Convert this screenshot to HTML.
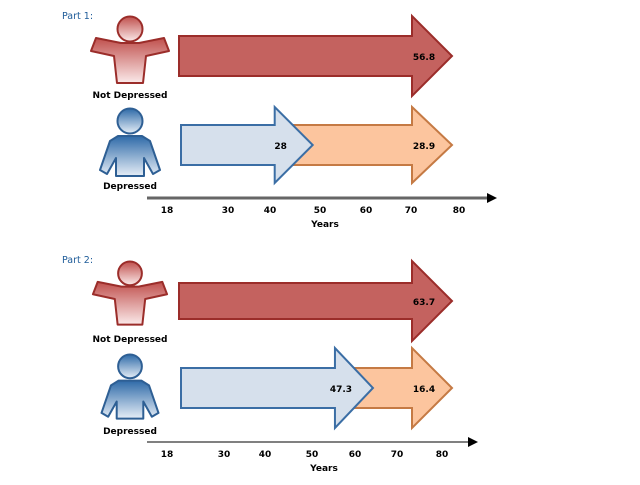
<!DOCTYPE html>
<html><head><meta charset="utf-8"><style>
body{margin:0;background:#fff;font-family:"Liberation Sans","DejaVu Sans",sans-serif}
svg text{font-family:"DejaVu Sans","Liberation Sans",sans-serif}
</style></head><body>
<svg id="c" width="640" height="480" xmlns="http://www.w3.org/2000/svg">
<defs>
<linearGradient id="gr" x1="0" y1="0" x2="0" y2="1"><stop offset="0" stop-color="#c0504d"/><stop offset="1" stop-color="#fbeaea"/></linearGradient>
<linearGradient id="gb" x1="0" y1="0" x2="0" y2="1"><stop offset="0" stop-color="#2e6aa8"/><stop offset="1" stop-color="#e6eef7"/></linearGradient>
</defs>
</svg>
<script>
const partTitles = ["Part 1:", "Part 2:"];
const notDepValues = [56.8, 63.7];
const depValues = [28, 47.3];
const extraValues = [28.9, 16.4];
const tickLabels = ["18","30","40","50","60","70","80"];
const NS="http://www.w3.org/2000/svg";
const svg=document.getElementById('c');
function mk(tag,attrs,parent){const e=document.createElementNS(NS,tag);for(const k in attrs)e.setAttribute(k,attrs[k]);(parent||svg).appendChild(e);return e;}
function txt(x,y,s,size,fill,anchor,parent,bold){const t=mk('text',{x:x,y:y,'font-size':size,fill:fill,'text-anchor':anchor||'middle'},parent);if(bold)t.setAttribute('font-weight','bold');t.textContent=s;return t;}
function arrowPath(x0,x1,yc,hb,hh,len){const xh=x1-len;return `M${x0},${yc-hb}L${xh},${yc-hb}L${xh},${yc-hh}L${x1},${yc}L${xh},${yc+hh}L${xh},${yc+hb}L${x0},${yc+hb}Z`;}
function person(cx,top,s,grad,stroke,arms,g){
  mk('circle',{cx:cx,cy:top+13*s,r:12.5*s,fill:grad,stroke:stroke,'stroke-width':2},g);
  let d;
  if(arms){d=`M${cx-9*s},${top+27*s}L${cx-34*s},${top+22*s}L${cx-39*s},${top+35*s}L${cx-16*s},${top+40*s}L${cx-13*s},${top+67*s}L${cx+13*s},${top+67*s}L${cx+16*s},${top+40*s}L${cx+39*s},${top+35*s}L${cx+34*s},${top+22*s}L${cx+9*s},${top+27*s}Z`;}
  else{d=`M${cx-12*s},${top+28*s}L${cx-20*s},${top+33*s}L${cx-30*s},${top+62*s}L${cx-23*s},${top+66*s}L${cx-14*s},${top+50*s}L${cx-14*s},${top+68*s}L${cx+14*s},${top+68*s}L${cx+14*s},${top+50*s}L${cx+23*s},${top+66*s}L${cx+30*s},${top+62*s}L${cx+20*s},${top+33*s}L${cx+12*s},${top+28*s}Z`;}
  mk('path',{d:d,fill:grad,stroke:stroke,'stroke-width':2,'stroke-linejoin':'round'},g);
}
const layouts=[
 {ty:19,pTop:16,redY:56,redHB:20,redHH:40,nl:98,dTop:108,blueY:145,bHB:20,bHH:38,dl:189,axY:198,axEnd:497,tickX:[167,228,270,320,366,411,459],sc:1,axCol:'#666',axW:3},
 {ty:263,pTop:261,redY:301,redHB:18,redHH:40,nl:342,dTop:354,blueY:388,bHB:20,bHH:40,dl:434,axY:442,axEnd:478,tickX:[167,224,265,312,355,397,442],sc:0.95,axCol:'#000',axW:1}
];
const X0=179, TIP=452, PXYR=4.82;
layouts.forEach((L,i)=>{
  const g=mk('g',{});
  
  
  const t=txt(62,L.ty,partTitles[i],9.5,'#1f5c99','start',g);
  
  
  person(130,L.pTop,L.sc,'url(#gr)','#9b2d2a',true,g);
  txt(130,L.nl,'Not Depressed',9,'#000','middle',g,true);
  person(130,L.dTop,L.sc,'url(#gb)','#2e5f94',false,g);
  txt(130,L.dl,'Depressed',9,'#000','middle',g,true);
  const redEnd=X0+notDepValues[i]*((TIP-X0)/notDepValues[i]);
  const red=mk('path',{d:arrowPath(X0,redEnd,L.redY,L.redHB,L.redHH,40),fill:'#c4625f',stroke:'#9b2d2a','stroke-width':2},g);
  
  
  txt(424,L.redY+4,String(notDepValues[i]),9,'#000','middle',g,true);
  const blueEnd=TIP-extraValues[i]*PXYR;
  const orStart=blueEnd-22;
  const or=mk('path',{d:arrowPath(orStart,TIP,L.blueY,L.bHB,L.bHH,40),fill:'#fcc59e',stroke:'#c57a44','stroke-width':2},g);
  
  
  const bl=mk('path',{d:arrowPath(X0+2,blueEnd,L.blueY,L.bHB,L.bHH,38),fill:'#d6e0ec',stroke:'#3b6ea5','stroke-width':2},g);
  
  
  txt(blueEnd-32,L.blueY+4,String(depValues[i]),9,'#000','middle',g,true);
  txt(424,L.blueY+4,String(extraValues[i]),9,'#000','middle',g,true);
  const ax=mk('line',{x1:147,y1:L.axY,x2:L.axEnd-8,y2:L.axY,stroke:L.axCol,'stroke-width':L.axW},g);
  
  
  mk('path',{d:`M${L.axEnd-10},${L.axY-5}L${L.axEnd},${L.axY}L${L.axEnd-10},${L.axY+5}Z`,fill:'#000'},g);
  tickLabels.forEach((lab,j)=>{
    const tl=txt(L.tickX[j],L.axY+15,lab,9,'#000','middle',g,true);
    
    
  });
  const yt=txt(i==0?325:324,L.axY+29,'Years',9,'#000','middle',g,true);
  
  
});
</script>
</body></html>
